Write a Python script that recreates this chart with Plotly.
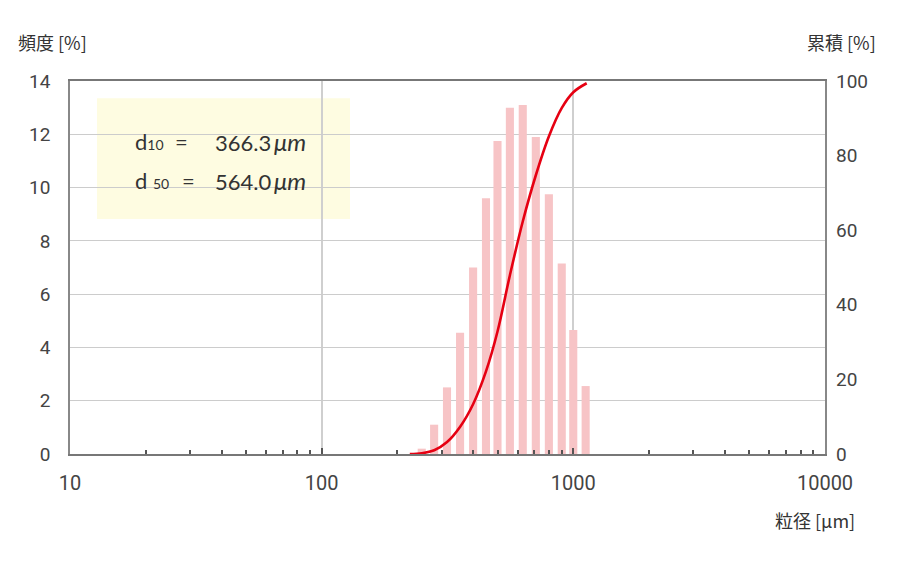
import plotly.graph_objects as go

# sieve sizes [um] and frequency [%]
sizes = [250, 280, 315, 355, 400, 450, 500, 560, 630, 710, 800, 900, 1000, 1120]
freq = [0.2, 1.1, 2.5, 4.55, 7.0, 9.6, 11.75, 13.0, 13.1, 11.9, 9.75, 7.15, 4.65, 2.55]

# cumulative curve [%]
cum_x = [224, 250, 280, 315, 355, 400, 450, 500, 560, 630, 710, 800, 900, 1000, 1130]
cum_y = [0, 0.2, 1.0, 3.2, 7.3, 13.4, 22.2, 32.9, 48.0, 62.4, 74.8, 85.2, 92.8, 97.0, 99.4]

x_ticks = [10, 100, 1000, 10000]
x_minor = [m * d for d in (10, 100, 1000) for m in range(2, 10)]

d10_text = "366.3"
d50_text = "564.0"

FONT = "Roboto, 'Noto Sans CJK JP', sans-serif"
JP = "'Noto Sans CJK JP', sans-serif"

# log axis: bar width grows with size so every bar looks equally wide
bar_w = [s * 0.074 for s in sizes]

fig = go.Figure()
fig.add_trace(go.Bar(
    x=sizes, y=freq, width=bar_w,
    marker=dict(color="#f7c4c6", line=dict(width=0)),
    yaxis="y",
    showlegend=False,
))
fig.add_trace(go.Scatter(
    x=cum_x, y=cum_y,
    mode="lines",
    line=dict(color="#e60012", width=2.6, shape="spline", smoothing=1.0),
    yaxis="y2",
    showlegend=False,
))

# page has an 8px body margin, so the figure is a bit smaller than the window
fig.update_layout(
    width=892, height=555,
    margin=dict(l=62, r=75, t=73, b=109),
    paper_bgcolor="white", plot_bgcolor="white",
    font=dict(family=FONT, size=19, color="#444"),
    xaxis=dict(
        type="log", range=[1, 4],
        tickmode="array", tickvals=x_ticks, ticktext=[str(v) for v in x_ticks],
        showgrid=True, gridcolor="#cfcfcf", gridwidth=1.5,
        showline=True, linecolor="#777", linewidth=2, mirror=True,
        ticks="inside", ticklen=6, tickwidth=1.5, tickcolor="#555",
        minor=dict(tickmode="array", tickvals=x_minor, ticks="inside",
                   ticklen=4, tickwidth=1.5, tickcolor="#555", showgrid=False),
        ticklabelstandoff=10,
        tickfont=dict(size=20, color="#444"),
        zeroline=False,
    ),
    yaxis=dict(
        range=[0, 14], dtick=2,
        showgrid=True, gridcolor="#cccccc", gridwidth=1,
        showline=True, linecolor="#888", linewidth=1.5, mirror=True,
        ticks="", ticklabelstandoff=14,
        zeroline=False,
    ),
    yaxis2=dict(
        range=[0, 100], dtick=20,
        overlaying="y", side="right",
        showgrid=False, showline=False, ticks="",
        ticklabelstandoff=10,
        zeroline=False,
    ),
)

# d10 / d50 box
fig.add_shape(type="rect", xref="paper", yref="paper",
              x0=0.0358, x1=0.3709, y0=0.630, y1=0.954,
              fillcolor="#fefce1", line=dict(width=0), layer="below")

box_font = dict(family="Lato, sans-serif", size=22, color="#333")
sub = "<span style='font-size:14px'>{}</span>"
unit = "\u2009<span style='font-style:italic;font-size:24px'>μm</span>"
for yy, lab, eq_x, val in [(0.839, "d" + sub.format("10"), 0.1364, d10_text),
                           (0.732, "d\u00a0" + sub.format("50"), 0.1457, d50_text)]:
    fig.add_annotation(text=lab, xref="paper", yref="paper", x=0.0834, y=yy,
                       xanchor="left", yanchor="middle", showarrow=False, font=box_font)
    fig.add_annotation(text="=", xref="paper", yref="paper", x=eq_x, y=yy,
                       xanchor="left", yanchor="middle", showarrow=False, font=box_font)
    fig.add_annotation(text=val + unit, xref="paper", yref="paper",
                       x=0.1894, y=yy, xanchor="left", yanchor="middle",
                       showarrow=False, font=box_font)

# axis titles
title_font = dict(family=JP, size=18, color="#333")
for txt, xx, yy in [("頻度 [%]", -0.0238, 1.1046),
                    ("累積 [%]", 1.0212, 1.1046),
                    ("粒径 [µm]", 0.9868, -0.177)]:
    fig.add_annotation(text=txt, xref="paper", yref="paper", x=xx, y=yy,
                       xanchor="center", yanchor="middle",
                       showarrow=False, font=title_font)

fig.write_html("out.html")
